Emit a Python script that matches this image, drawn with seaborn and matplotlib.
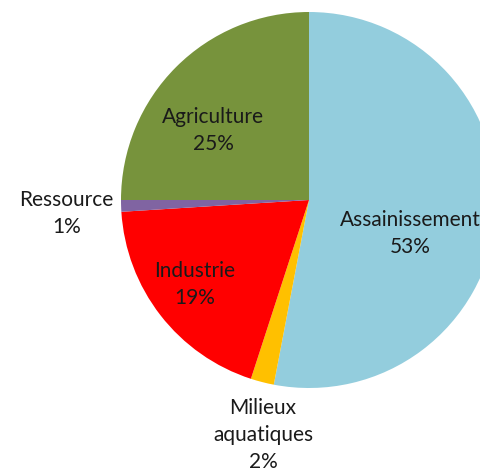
import matplotlib
matplotlib.use("Agg")
import matplotlib.pyplot as plt
import seaborn as sns

categories = ['Assainissement', 'Milieux\naquatiques', 'Industrie', 'Ressource', 'Agriculture']
shares = [53, 2, 19, 1, 25]
slice_colors = ['#93CDDD', '#FFC000', '#FF0000', '#8064A2', '#77933C']

# label spots, in units of the pie radius (centre = 0,0)
label_xy = [(0.54, -0.18), (-0.245, -1.25), (-0.61, -0.45), (-1.29, -0.07), (-0.51, 0.37)]

sns.set_theme(style='white')
plt.rcParams['font.family'] = ['Lato', 'DejaVu Sans']

fig = plt.figure(figsize=(4.81, 4.71), dpi=100)
ax = fig.add_axes([0, 0, 1, 1])

wedges, _ = ax.pie(shares, colors=sns.color_palette(slice_colors), startangle=90,
                   counterclock=False, radius=1.0, center=(0, 0),
                   wedgeprops=dict(linewidth=0, edgecolor='none'))

for name, val, (x, y) in zip(categories, shares, label_xy):
    ax.text(x, y, f'{name}\n{val}%', ha='center', va='center', fontsize=15,
            color='#1a1a1a', linespacing=1.45)

r = 188.0
ax.set_xlim(-309 / r, (481 - 309) / r)
ax.set_ylim(-(471 - 200) / r, 200 / r)
ax.set_aspect('equal')
ax.axis('off')

fig.savefig('out.png', dpi=100)
